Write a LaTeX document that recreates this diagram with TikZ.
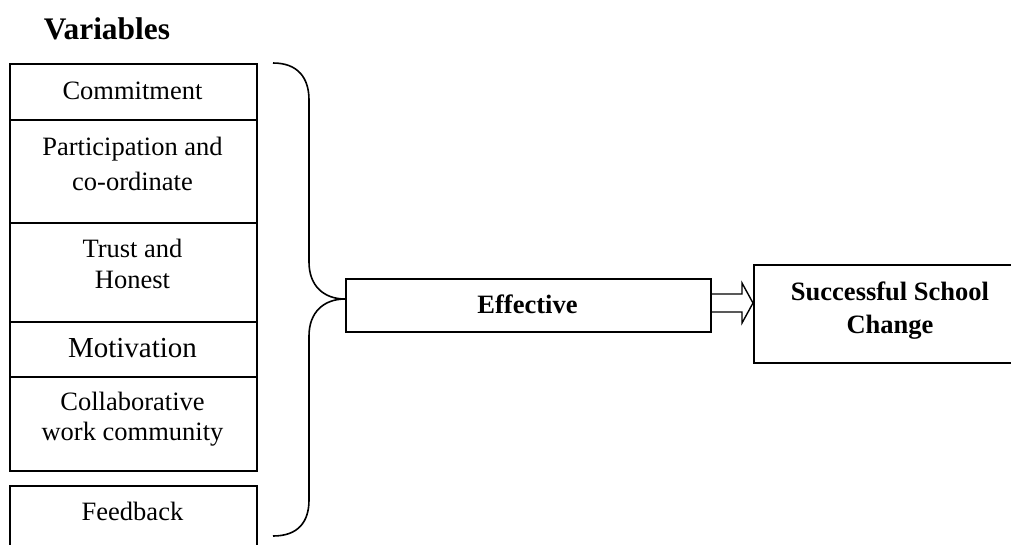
\documentclass[tikz,border=0pt]{standalone}
\usepackage{fontspec}
\setmainfont{Liberation Serif}
\begin{document}
\begin{tikzpicture}[x=1pt,y=1pt,
  line width=1.6pt,
  cell/.style={draw, rectangle, inner sep=0pt, anchor=north west, minimum width=247pt},
  txt/.style={inner sep=0pt, anchor=base, font=\fontsize{26.5}{35}\selectfont},
  btxt/.style={txt, font=\fontsize{26.5}{35}\selectfont\bfseries},
  bracecurve/.style={line width=1.6pt}]
\useasboundingbox (0,0) rectangle (1011,-544);
\clip (0,0) rectangle (1011,-544);

% heading
\node[inner sep=0pt, anchor=base west, font=\fontsize{31.4}{36}\selectfont\bfseries] (head) at (43,-39) {Variables};

% stacked variable cells
\node[cell, minimum height=56pt]  (c1) at (9,-63)  {};
\node[cell, minimum height=103pt] (c2) at (9,-119) {};
\node[cell, minimum height=99pt]  (c3) at (9,-222) {};
\node[cell, minimum height=55pt]  (c4) at (9,-321) {};
\node[cell, minimum height=94pt]  (c5) at (9,-376) {};
\node[cell, minimum height=80pt]  (c6) at (9,-485) {};

\node[txt] (t1)  at (132.5,-99)  {Commitment};
\node[txt] (t2a) at (132.5,-155) {Participation and};
\node[txt] (t2b) at (132.5,-190) {co-ordinate};
\node[txt] (t3a) at (132.5,-257) {Trust and};
\node[txt] (t3b) at (132.5,-288) {Honest};
\node[txt, font=\fontsize{29}{35}\selectfont] (t4) at (132.5,-357) {Motivation};
\node[txt] (t5a) at (132.5,-410) {Collaborative};
\node[txt] (t5b) at (132.5,-440) {work community};
\node[txt] (t6)  at (132.5,-520) {Feedback};

% middle and result boxes
\node[draw, rectangle, inner sep=0pt, anchor=north west, minimum width=365pt, minimum height=53pt] (eff) at (345,-278) {};
\node[btxt] (efft) at (527.5,-313) {Effective};
\node[draw, rectangle, inner sep=0pt, anchor=north west, minimum width=280pt, minimum height=98pt] (res) at (753,-264) {};
\node[btxt] (rest1) at (890,-300) {Successful School};
\node[btxt] (rest2) at (890,-333) {Change};

% brace gathering the variables
\coordinate (tip) at (eff.west |- 0,-299);
\draw[bracecurve] (273,-63) .. controls (298,-63) and (309,-78) .. (309,-100)
  -- (309,-262) .. controls (309,-286) and (324,-299) .. (tip)
  .. controls (324,-299) and (309,-312) .. (309,-336)
  -- (309,-500) .. controls (309,-522) and (298,-536) .. (273,-536);

% block arrow to the result
\draw[line width=1.4pt] (eff.east |- 0,-294) -- (742,-294) -- (742,-283) -- (res.west |- 0,-303)
  -- (742,-323) -- (742,-312) -- (eff.east |- 0,-312);
\end{tikzpicture}
\end{document}
